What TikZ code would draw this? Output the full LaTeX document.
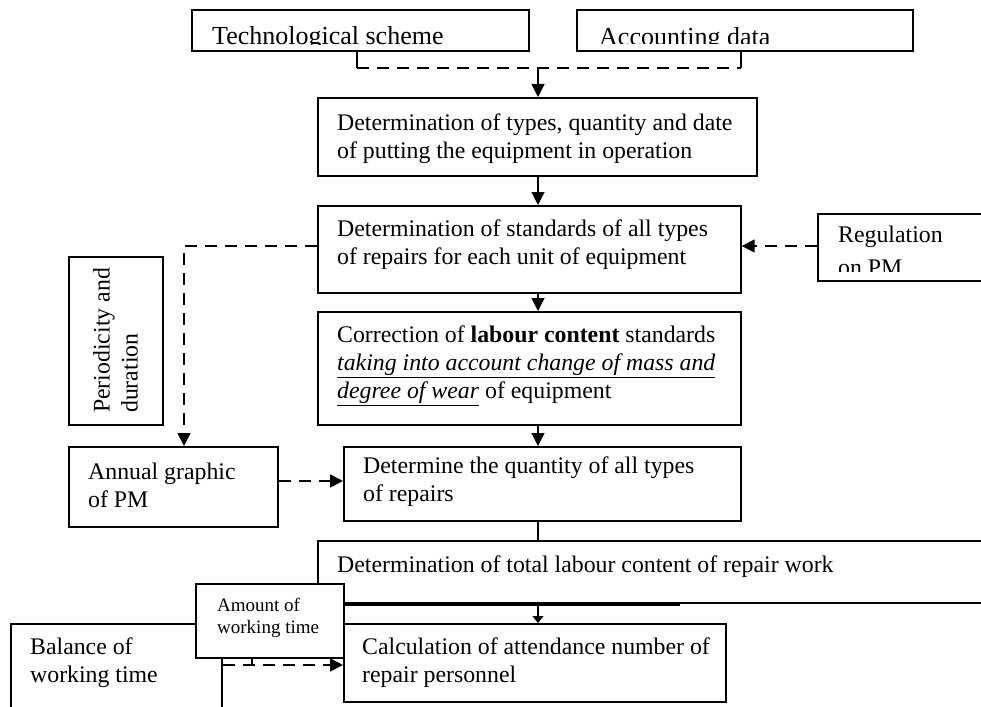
\documentclass[tikz,border=0pt]{standalone}
\usepackage{fontspec}
\setmainfont{Liberation Serif}
\usetikzlibrary{arrows.meta}
\newcommand\myul[1]{\setbox0\hbox{#1}\rlap{\rule[-7.5pt]{\wd0}{1.8pt}}\box0}
\begin{document}
\begin{tikzpicture}[x=1pt,y=-1pt,
 boxst/.style={draw, line width=1.7pt, fill=white, inner sep=0pt, anchor=north west},
 txt/.style={inner sep=0pt, anchor=north west, align=left, font=\fontsize{23.8}{28}\selectfont},
 arr/.style={line width=1.1pt, -{Triangle[length=13pt,width=13pt]}},
 arrs/.style={line width=1.1pt, -{Triangle[length=7pt,width=11pt]}},
 thin/.style={line width=1.1pt},
 dsh/.style={line width=1.7pt, dash pattern=on 12pt off 8pt},
 darr/.style={dsh, -{Triangle[length=13pt,width=13pt]}},
]
\useasboundingbox (0,0) rectangle (981,706);
\clip (0,0) rectangle (981,706);
\fill[white] (0,0) rectangle (981,706);

% boxes
\node[boxst, minimum width=337pt, minimum height=41pt] (tech) at (191,9) {};
\node[boxst, minimum width=336pt, minimum height=41pt] (acc) at (576,9) {};
\node[boxst, minimum width=439pt, minimum height=78pt] (b1) at (317,97) {};
\node[boxst, minimum width=423pt, minimum height=87pt] (b2) at (317,205) {};
\node[boxst, minimum width=200pt, minimum height=67pt] (reg) at (817,213) {};
\node[boxst, minimum width=94pt, minimum height=168pt] (period) at (68,256) {};
\node[boxst, minimum width=423pt, minimum height=113pt] (b3) at (317,311) {};
\node[boxst, minimum width=209pt, minimum height=80pt] (annual) at (68,446) {};
\node[boxst, minimum width=397pt, minimum height=74pt] (b4) at (343,446) {};
\node[boxst, minimum width=700pt, minimum height=62pt] (b5) at (317,540) {};
\node[boxst, minimum width=211pt, minimum height=120pt] (balance) at (10,623) {};
\node[boxst, minimum width=382pt, minimum height=78pt] (b6) at (343,623) {};
\node[boxst, minimum width=148pt, minimum height=74pt] (amount) at (195,583) {};

% texts
\begin{scope}
\clip (191,9) rectangle (528,45);
\node[txt, font=\fontsize{26}{30}\selectfont] (techt) at (212,26) {Technological scheme};
\end{scope}
\begin{scope}
\clip (576,9) rectangle (912,44);
\node[txt, font=\fontsize{26}{30}\selectfont] (acct) at (599,27) {Accounting data};
\end{scope}
\node[txt] (b1t) at (337,114) {Determination of types, quantity and date\\of putting the equipment in operation};
\node[txt] (b2t) at (337,220) {Determination of standards of all types\\of repairs for each unit of equipment};
\begin{scope}
\clip (817,213) rectangle (981,271);
\node[txt] (regt) at (838,226) {Regulation\\[5pt]on PM};
\end{scope}
\node[txt, rotate=90] (periodt) at (93,413) {Periodicity and\\duration};
\node[txt] (b3t) at (337,326) {Correction of \textbf{labour content} standards\\\myul{\textit{taking into account change of mass and}}\\\myul{\textit{degree of wear}}\ of equipment};
\node[txt] (annualt) at (88,463) {Annual graphic\\of PM};
\node[txt] (b4t) at (363,457) {Determine the quantity of all types\\of repairs};
\node[txt] (b5t) at (337,556) {Determination of total labour content of repair work};
\node[txt] (balancet) at (30,638) {Balance of\\working time};
\node[txt, font=\fontsize{19}{22}\selectfont] (amountt) at (217,598) {Amount of\\working time};
\node[txt] (b6t) at (362,638) {Calculation of attendance number of\\repair personnel};

% helper coordinates
\coordinate (ax) at (538,0);
\coordinate (jl) at (357,68);
\coordinate (jr) at (741,68);
\coordinate (jm) at (538,68);
\coordinate (ry) at (0,246);
\coordinate (lx) at (184,0);
\coordinate (ay) at (0,481);
\coordinate (by) at (0,665);
\coordinate (tx) at (252,0);
\coordinate (ex) at (680,605);

% connectors
\draw[thin] (tech.south -| jl) -- (jl);
\draw[thin] (acc.south -| jr) -- (jr);
\draw[dsh] (jl) -- (jr);
\draw[arr] (jm) -- (b1.north -| jm);
\draw[arr] (b1.south -| ax) -- (b2.north -| ax);
\draw[arr] (b2.south -| ax) -- (b3.north -| ax);
\draw[arr] (b3.south -| ax) -- (b4.north -| ax);
\draw[thin] (b4.south -| ax) -- (b5.north -| ax);
\draw[arrs] (b5.south -| ax) -- (b6.north -| ax);
\draw[thin] (amount.east |- ex) -- (ex);
\draw[darr] (reg.west |- ry) -- (b2.east |- ry);
\draw[darr] (b2.west |- ry) -| (annual.north -| lx);
\draw[darr] (annual.east |- ay) -- (b4.west |- ay);
\draw[darr] (balance.east |- by) -- (b6.west |- by);
\draw[thin] (amount.south -| tx) -- (tx |- by);
\end{tikzpicture}
\end{document}
